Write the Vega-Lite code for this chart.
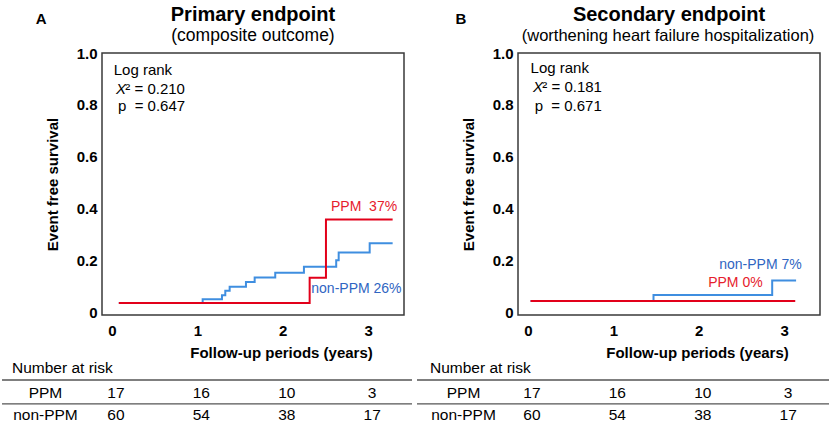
{
  "$schema": "https://vega.github.io/schema/vega-lite/v6.json",
  "background": "white",
  "padding": {"left": 0, "top": 3, "right": 0, "bottom": 0},
  "config": {
    "font": "Liberation Sans",
    "axis": {"labelColor": "#000", "titleColor": "#000", "grid": false, "domain": false, "ticks": false, "labelFontSize": 15, "labelFontWeight": "bold", "titleFontSize": 15, "titleFontWeight": "bold"},
    "text": {"color": "#000"}
  },
  "datasets": {
    "kmA": [
      {"group": "non-PPM", "t": 0.08, "s": 0.038},
      {"group": "non-PPM", "t": 1.062, "s": 0.053},
      {"group": "non-PPM", "t": 1.288, "s": 0.068},
      {"group": "non-PPM", "t": 1.327, "s": 0.085},
      {"group": "non-PPM", "t": 1.378, "s": 0.101},
      {"group": "non-PPM", "t": 1.569, "s": 0.119},
      {"group": "non-PPM", "t": 1.671, "s": 0.136},
      {"group": "non-PPM", "t": 1.912, "s": 0.155},
      {"group": "non-PPM", "t": 2.248, "s": 0.178},
      {"group": "non-PPM", "t": 2.626, "s": 0.203},
      {"group": "non-PPM", "t": 2.655, "s": 0.232},
      {"group": "non-PPM", "t": 3.018, "s": 0.268},
      {"group": "non-PPM", "t": 3.287, "s": 0.268},
      {"group": "PPM", "t": 0.08, "s": 0.038},
      {"group": "PPM", "t": 2.315, "s": 0.135},
      {"group": "PPM", "t": 2.506, "s": 0.359},
      {"group": "PPM", "t": 3.287, "s": 0.359}
    ],
    "kmB": [
      {"group": "non-PPM", "t": 0.03, "s": 0.046},
      {"group": "non-PPM", "t": 1.47, "s": 0.069},
      {"group": "non-PPM", "t": 2.86, "s": 0.125},
      {"group": "non-PPM", "t": 3.14, "s": 0.125},
      {"group": "PPM", "t": 0.03, "s": 0.046},
      {"group": "PPM", "t": 3.13, "s": 0.046}
    ],
    "annA": [
      {"key": "title", "label": "Primary endpoint"},
      {"key": "sub", "label": "(composite outcome)"},
      {"key": "letter", "label": "A"},
      {"key": "logrank", "label": "Log rank"},
      {"key": "x", "label": "X"},
      {"key": "chi", "label": "² = 0.210"},
      {"key": "p", "label": "p\u00a0 = 0.647"},
      {"key": "ppm", "label": "PPM\u00a0 37%"},
      {"key": "nonppm", "label": "non-PPM 26%"},
      {"key": "risk", "label": "Number at risk"}
    ],
    "annB": [
      {"key": "title", "label": "Secondary endpoint"},
      {"key": "sub", "label": "(worthening heart failure hospitalization)"},
      {"key": "letter", "label": "B"},
      {"key": "logrank", "label": "Log rank"},
      {"key": "x", "label": "X"},
      {"key": "chi", "label": "² = 0.181"},
      {"key": "p", "label": "p\u00a0 = 0.671"},
      {"key": "ppm", "label": "PPM 0%"},
      {"key": "nonppm", "label": "non-PPM 7%"},
      {"key": "risk", "label": "Number at risk"}
    ],
    "rows": [{"row": "PPM"}, {"row": "non-PPM"}],
    "risk": [
      {"row": "PPM", "t": 0, "n": "17"},
      {"row": "PPM", "t": 1, "n": "16"},
      {"row": "PPM", "t": 2, "n": "10"},
      {"row": "PPM", "t": 3, "n": "3"},
      {"row": "non-PPM", "t": 0, "n": "60"},
      {"row": "non-PPM", "t": 1, "n": "54"},
      {"row": "non-PPM", "t": 2, "n": "38"},
      {"row": "non-PPM", "t": 3, "n": "17"}
    ]
  },
  "bounds": "flush",
  "spacing": 114,
  "hconcat": [
    {
      "width": 302, "height": 262,
      "view": {"stroke": "#3a3a3a", "strokeWidth": 1.5},
      "layer": [
        {
          "data": {"name": "kmA"},
          "transform": [{"filter": "datum.group === 'non-PPM'"}],
          "mark": {"type": "line", "interpolate": "step-after", "color": "#3f8ee0", "strokeWidth": 2},
          "encoding": {
            "x": {"field": "t", "type": "quantitative", "scale": {"domain": [-0.117, 3.42], "nice": false, "zero": false}, "axis": {"values": [0, 1, 2, 3], "format": "d", "labelPadding": 8, "title": "Follow-up periods (years)", "titlePadding": 7, "titleX": 179, "titleAlign": "center"}},
            "y": {"field": "s", "type": "quantitative", "scale": {"domain": [-0.008, 1.0], "nice": false, "zero": false}, "axis": {"values": [0, 0.2, 0.4, 0.6, 0.8, 1.0], "labelExpr": "datum.value === 0 ? '0' : format(datum.value, '.1f')", "labelPadding": 5, "title": "Event free survival", "titlePadding": 16}}
          }
        },
        {
          "data": {"name": "kmA"},
          "transform": [{"filter": "datum.group === 'PPM'"}],
          "mark": {"type": "line", "interpolate": "step-after", "color": "#e2001a", "strokeWidth": 2},
          "encoding": {"x": {"field": "t", "type": "quantitative"}, "y": {"field": "s", "type": "quantitative"}}
        },
        {
          "data": {"name": "annA"}, "transform": [{"filter": "datum.key === 'title'"}],
          "mark": {"type": "text", "align": "center", "baseline": "alphabetic", "fontSize": 20, "fontWeight": "bold"},
          "encoding": {"x": {"datum": 1.6515, "type": "quantitative"}, "y": {"datum": 1.125, "type": "quantitative"}, "text": {"field": "label"}}
        },
        {
          "data": {"name": "annA"}, "transform": [{"filter": "datum.key === 'sub'"}],
          "mark": {"type": "text", "align": "center", "baseline": "alphabetic", "fontSize": 17.5},
          "encoding": {"x": {"datum": 1.6515, "type": "quantitative"}, "y": {"datum": 1.048, "type": "quantitative"}, "text": {"field": "label"}}
        },
        {
          "data": {"name": "annA"}, "transform": [{"filter": "datum.key === 'letter'"}],
          "mark": {"type": "text", "align": "center", "baseline": "alphabetic", "fontSize": 15, "fontWeight": "bold"},
          "encoding": {"x": {"datum": -0.83, "type": "quantitative"}, "y": {"datum": 1.1116, "type": "quantitative"}, "text": {"field": "label"}}
        },
        {
          "data": {"name": "annA"}, "transform": [{"filter": "datum.key === 'logrank'"}],
          "mark": {"type": "text", "align": "left", "baseline": "middle", "fontSize": 15},
          "encoding": {"x": {"datum": 0.02, "type": "quantitative"}, "y": {"datum": 0.936, "type": "quantitative"}, "text": {"field": "label"}}
        },
        {
          "data": {"name": "annA"}, "transform": [{"filter": "datum.key === 'x'"}],
          "mark": {"type": "text", "align": "left", "baseline": "middle", "fontSize": 15, "fontStyle": "italic"},
          "encoding": {"x": {"datum": 0.047, "type": "quantitative"}, "y": {"datum": 0.86, "type": "quantitative"}, "text": {"field": "label"}}
        },
        {
          "data": {"name": "annA"}, "transform": [{"filter": "datum.key === 'chi'"}],
          "mark": {"type": "text", "align": "left", "baseline": "middle", "fontSize": 15},
          "encoding": {"x": {"datum": 0.156, "type": "quantitative"}, "y": {"datum": 0.86, "type": "quantitative"}, "text": {"field": "label"}}
        },
        {
          "data": {"name": "annA"}, "transform": [{"filter": "datum.key === 'p'"}],
          "mark": {"type": "text", "align": "left", "baseline": "middle", "fontSize": 15},
          "encoding": {"x": {"datum": 0.07, "type": "quantitative"}, "y": {"datum": 0.795, "type": "quantitative"}, "text": {"field": "label"}}
        },
        {
          "data": {"name": "annA"}, "transform": [{"filter": "datum.key === 'ppm'"}],
          "mark": {"type": "text", "align": "left", "baseline": "middle", "fontSize": 14, "color": "#e6202c"},
          "encoding": {"x": {"datum": 2.565, "type": "quantitative"}, "y": {"datum": 0.408, "type": "quantitative"}, "text": {"field": "label"}}
        },
        {
          "data": {"name": "annA"}, "transform": [{"filter": "datum.key === 'nonppm'"}],
          "mark": {"type": "text", "align": "left", "baseline": "middle", "fontSize": 14, "color": "#2f65c2"},
          "encoding": {"x": {"datum": 2.334, "type": "quantitative"}, "y": {"datum": 0.093, "type": "quantitative"}, "text": {"field": "label"}}
        },
        {
          "data": {"name": "annA"}, "transform": [{"filter": "datum.key === 'risk'"}],
          "mark": {"type": "text", "align": "left", "baseline": "middle", "fontSize": 15.5},
          "encoding": {"x": {"datum": -1.171, "type": "quantitative"}, "y": {"datum": -0.211, "type": "quantitative"}, "text": {"field": "label"}}
        },
        {
          "data": {"name": "rows"}, "transform": [{"filter": "datum.row === 'PPM'"}],
          "mark": {"type": "rule", "color": "#555", "strokeWidth": 1.3},
          "encoding": {"x": {"datum": -1.288, "type": "quantitative"}, "x2": {"datum": 3.514}, "y": {"datum": -0.258, "type": "quantitative"}}
        },
        {
          "data": {"name": "rows"}, "transform": [{"filter": "datum.row === 'non-PPM'"}],
          "mark": {"type": "rule", "color": "#555", "strokeWidth": 1.3},
          "encoding": {"x": {"datum": -1.288, "type": "quantitative"}, "x2": {"datum": 3.514}, "y": {"datum": -0.350, "type": "quantitative"}}
        },
        {
          "data": {"name": "rows"}, "transform": [{"filter": "datum.row === 'PPM'"}],
          "mark": {"type": "text", "align": "center", "baseline": "middle", "fontSize": 15.5},
          "encoding": {"x": {"datum": -0.779, "type": "quantitative"}, "y": {"datum": -0.308, "type": "quantitative"}, "text": {"field": "row"}}
        },
        {
          "data": {"name": "rows"}, "transform": [{"filter": "datum.row === 'non-PPM'"}],
          "mark": {"type": "text", "align": "center", "baseline": "middle", "fontSize": 15.5},
          "encoding": {"x": {"datum": -0.779, "type": "quantitative"}, "y": {"datum": -0.393, "type": "quantitative"}, "text": {"field": "row"}}
        },
        {
          "data": {"name": "risk"}, "transform": [{"filter": "datum.row === 'PPM'"}],
          "mark": {"type": "text", "align": "center", "baseline": "middle", "fontSize": 15.5, "dx": 4},
          "encoding": {"x": {"field": "t", "type": "quantitative"}, "y": {"datum": -0.308, "type": "quantitative"}, "text": {"field": "n"}}
        },
        {
          "data": {"name": "risk"}, "transform": [{"filter": "datum.row === 'non-PPM'"}],
          "mark": {"type": "text", "align": "center", "baseline": "middle", "fontSize": 15.5, "dx": 4},
          "encoding": {"x": {"field": "t", "type": "quantitative"}, "y": {"datum": -0.393, "type": "quantitative"}, "text": {"field": "n"}}
        }
      ]
    },
    {
      "width": 302, "height": 262,
      "view": {"stroke": "#3a3a3a", "strokeWidth": 1.5},
      "layer": [
        {
          "data": {"name": "kmB"},
          "transform": [{"filter": "datum.group === 'non-PPM'"}],
          "mark": {"type": "line", "interpolate": "step-after", "color": "#3f8ee0", "strokeWidth": 2},
          "encoding": {
            "x": {"field": "t", "type": "quantitative", "scale": {"domain": [-0.117, 3.42], "nice": false, "zero": false}, "axis": {"values": [0, 1, 2, 3], "format": "d", "labelPadding": 8, "title": "Follow-up periods (years)", "titlePadding": 7, "titleX": 179, "titleAlign": "center"}},
            "y": {"field": "s", "type": "quantitative", "scale": {"domain": [-0.008, 1.0], "nice": false, "zero": false}, "axis": {"values": [0, 0.2, 0.4, 0.6, 0.8, 1.0], "labelExpr": "datum.value === 0 ? '0' : format(datum.value, '.1f')", "labelPadding": 5, "title": "Event free survival", "titlePadding": 16}}
          }
        },
        {
          "data": {"name": "kmB"},
          "transform": [{"filter": "datum.group === 'PPM'"}],
          "mark": {"type": "line", "interpolate": "step-after", "color": "#e2001a", "strokeWidth": 2},
          "encoding": {"x": {"field": "t", "type": "quantitative"}, "y": {"field": "s", "type": "quantitative"}}
        },
        {
          "data": {"name": "annB"}, "transform": [{"filter": "datum.key === 'title'"}],
          "mark": {"type": "text", "align": "center", "baseline": "alphabetic", "fontSize": 20, "fontWeight": "bold"},
          "encoding": {"x": {"datum": 1.6515, "type": "quantitative"}, "y": {"datum": 1.125, "type": "quantitative"}, "text": {"field": "label"}}
        },
        {
          "data": {"name": "annB"}, "transform": [{"filter": "datum.key === 'sub'"}],
          "mark": {"type": "text", "align": "center", "baseline": "alphabetic", "fontSize": 16.5},
          "encoding": {"x": {"datum": 1.64, "type": "quantitative"}, "y": {"datum": 1.048, "type": "quantitative"}, "text": {"field": "label"}}
        },
        {
          "data": {"name": "annB"}, "transform": [{"filter": "datum.key === 'letter'"}],
          "mark": {"type": "text", "align": "center", "baseline": "alphabetic", "fontSize": 15, "fontWeight": "bold"},
          "encoding": {"x": {"datum": -0.785, "type": "quantitative"}, "y": {"datum": 1.1116, "type": "quantitative"}, "text": {"field": "label"}}
        },
        {
          "data": {"name": "annB"}, "transform": [{"filter": "datum.key === 'logrank'"}],
          "mark": {"type": "text", "align": "left", "baseline": "middle", "fontSize": 15},
          "encoding": {"x": {"datum": 0.03, "type": "quantitative"}, "y": {"datum": 0.944, "type": "quantitative"}, "text": {"field": "label"}}
        },
        {
          "data": {"name": "annB"}, "transform": [{"filter": "datum.key === 'x'"}],
          "mark": {"type": "text", "align": "left", "baseline": "middle", "fontSize": 15, "fontStyle": "italic"},
          "encoding": {"x": {"datum": 0.059, "type": "quantitative"}, "y": {"datum": 0.87, "type": "quantitative"}, "text": {"field": "label"}}
        },
        {
          "data": {"name": "annB"}, "transform": [{"filter": "datum.key === 'chi'"}],
          "mark": {"type": "text", "align": "left", "baseline": "middle", "fontSize": 15},
          "encoding": {"x": {"datum": 0.168, "type": "quantitative"}, "y": {"datum": 0.87, "type": "quantitative"}, "text": {"field": "label"}}
        },
        {
          "data": {"name": "annB"}, "transform": [{"filter": "datum.key === 'p'"}],
          "mark": {"type": "text", "align": "left", "baseline": "middle", "fontSize": 15},
          "encoding": {"x": {"datum": 0.078, "type": "quantitative"}, "y": {"datum": 0.797, "type": "quantitative"}, "text": {"field": "label"}}
        },
        {
          "data": {"name": "annB"}, "transform": [{"filter": "datum.key === 'ppm'"}],
          "mark": {"type": "text", "align": "left", "baseline": "middle", "fontSize": 14, "color": "#e6202c"},
          "encoding": {"x": {"datum": 2.11, "type": "quantitative"}, "y": {"datum": 0.115, "type": "quantitative"}, "text": {"field": "label"}}
        },
        {
          "data": {"name": "annB"}, "transform": [{"filter": "datum.key === 'nonppm'"}],
          "mark": {"type": "text", "align": "left", "baseline": "middle", "fontSize": 14, "color": "#2f65c2"},
          "encoding": {"x": {"datum": 2.24, "type": "quantitative"}, "y": {"datum": 0.186, "type": "quantitative"}, "text": {"field": "label"}}
        },
        {
          "data": {"name": "annB"}, "transform": [{"filter": "datum.key === 'risk'"}],
          "mark": {"type": "text", "align": "left", "baseline": "middle", "fontSize": 15.5},
          "encoding": {"x": {"datum": -1.148, "type": "quantitative"}, "y": {"datum": -0.211, "type": "quantitative"}, "text": {"field": "label"}}
        },
        {
          "data": {"name": "rows"}, "transform": [{"filter": "datum.row === 'PPM'"}],
          "mark": {"type": "rule", "color": "#555", "strokeWidth": 1.3},
          "encoding": {"x": {"datum": -1.3, "type": "quantitative"}, "x2": {"datum": 3.537}, "y": {"datum": -0.258, "type": "quantitative"}}
        },
        {
          "data": {"name": "rows"}, "transform": [{"filter": "datum.row === 'non-PPM'"}],
          "mark": {"type": "rule", "color": "#555", "strokeWidth": 1.3},
          "encoding": {"x": {"datum": -1.3, "type": "quantitative"}, "x2": {"datum": 3.537}, "y": {"datum": -0.350, "type": "quantitative"}}
        },
        {
          "data": {"name": "rows"}, "transform": [{"filter": "datum.row === 'PPM'"}],
          "mark": {"type": "text", "align": "center", "baseline": "middle", "fontSize": 15.5},
          "encoding": {"x": {"datum": -0.755, "type": "quantitative"}, "y": {"datum": -0.308, "type": "quantitative"}, "text": {"field": "row"}}
        },
        {
          "data": {"name": "rows"}, "transform": [{"filter": "datum.row === 'non-PPM'"}],
          "mark": {"type": "text", "align": "center", "baseline": "middle", "fontSize": 15.5},
          "encoding": {"x": {"datum": -0.755, "type": "quantitative"}, "y": {"datum": -0.393, "type": "quantitative"}, "text": {"field": "row"}}
        },
        {
          "data": {"name": "risk"}, "transform": [{"filter": "datum.row === 'PPM'"}],
          "mark": {"type": "text", "align": "center", "baseline": "middle", "fontSize": 15.5, "dx": 4},
          "encoding": {"x": {"field": "t", "type": "quantitative"}, "y": {"datum": -0.308, "type": "quantitative"}, "text": {"field": "n"}}
        },
        {
          "data": {"name": "risk"}, "transform": [{"filter": "datum.row === 'non-PPM'"}],
          "mark": {"type": "text", "align": "center", "baseline": "middle", "fontSize": 15.5, "dx": 4},
          "encoding": {"x": {"field": "t", "type": "quantitative"}, "y": {"datum": -0.393, "type": "quantitative"}, "text": {"field": "n"}}
        }
      ]
    }
  ]
}
